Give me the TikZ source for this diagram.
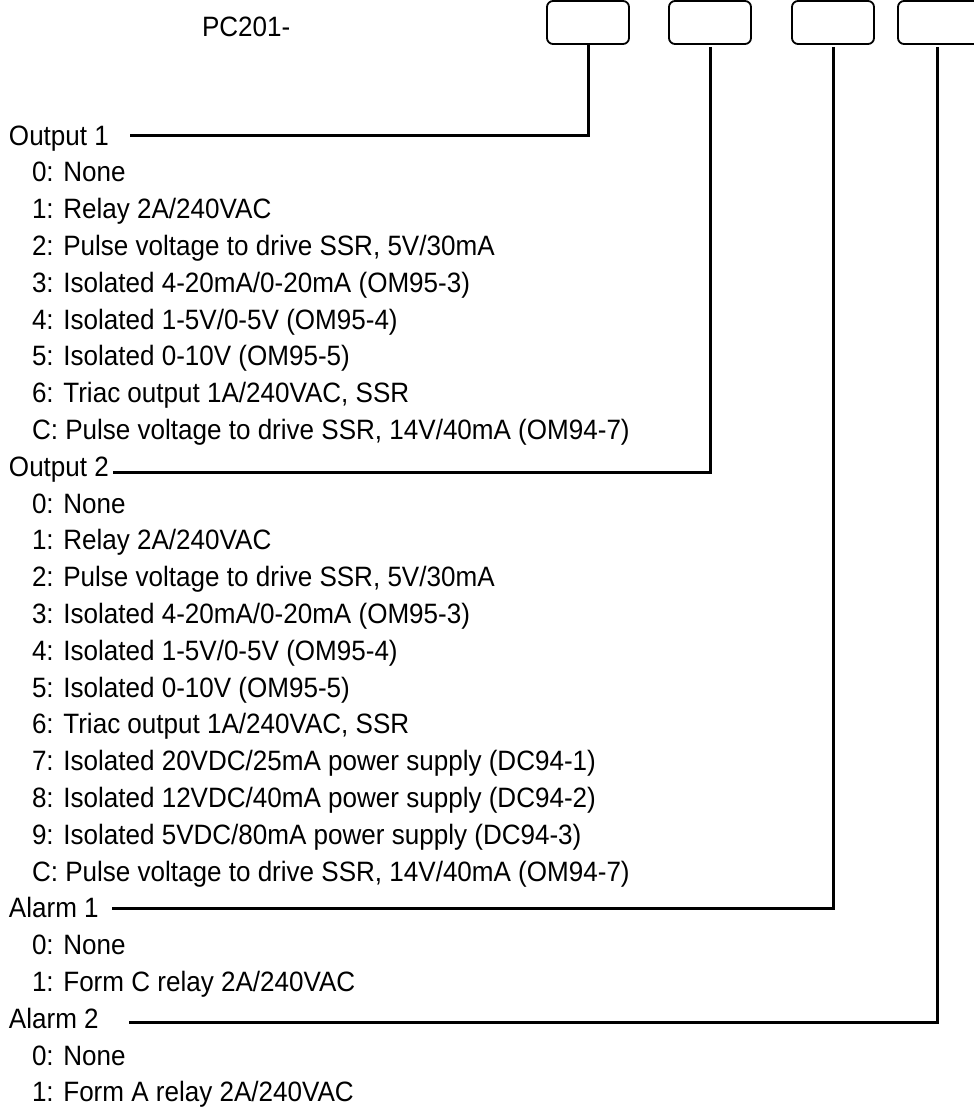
\documentclass[tikz,border=0pt]{standalone}
\usepackage{fontspec}
\setmainfont{Liberation Sans}[FakeStretch=0.93]
\begin{document}
\begin{tikzpicture}[x=1pt,y=-1pt,
  every node/.style={inner sep=0pt,outer sep=0pt,font=\fontsize{28}{34}\selectfont},
  lbl/.style={anchor=base west},
  codebox/.style={draw,line width=1.8pt,rounded corners=6pt,minimum width=82pt,minimum height=43pt,anchor=north west},
  conn/.style={line width=3pt,line join=miter}]
\useasboundingbox (0,0) rectangle (974,1108);
\node[lbl] (pc) at (202,37) {PC201-};
\node[codebox] (b1) at (547,1) {};
\node[codebox] (b2) at (669,1) {};
\node[codebox] (b3) at (792,1) {};
\node[codebox] (b4) at (898,1) {};
\def\pitch{36.8}
% Output 1
\node[lbl] (o1) at (9,145) {Output 1};
\foreach \t [count=\i] in {0: None,1: Relay 2A/240VAC,{2: Pulse voltage to drive SSR, 5V/30mA},3: Isolated 4-20mA/0-20mA (OM95-3),4: Isolated 1-5V/0-5V (OM95-4),5: Isolated 0-10V (OM95-5),{6: Triac output 1A/240VAC, SSR},{C: Pulse voltage to drive SSR, 14V/40mA (OM94-7)}}
  \node[lbl] (o1i\i) at (32,145+\i*\pitch) {\t};
% Output 2
\node[lbl] (o2) at (9,145+9*\pitch) {Output 2};
\foreach \t [count=\i] in {0: None,1: Relay 2A/240VAC,{2: Pulse voltage to drive SSR, 5V/30mA},3: Isolated 4-20mA/0-20mA (OM95-3),4: Isolated 1-5V/0-5V (OM95-4),5: Isolated 0-10V (OM95-5),{6: Triac output 1A/240VAC, SSR},7: Isolated 20VDC/25mA power supply (DC94-1),8: Isolated 12VDC/40mA power supply (DC94-2),9: Isolated 5VDC/80mA power supply (DC94-3),{C: Pulse voltage to drive SSR, 14V/40mA (OM94-7)}}
  \node[lbl] (o2i\i) at (32,145+9*\pitch+\i*\pitch) {\t};
% Alarm 1
\node[lbl] (a1) at (9,145+21*\pitch) {Alarm 1};
\node[lbl] (a1i1) at (32,145+22*\pitch) {0: None};
\node[lbl] (a1i2) at (32,145+23*\pitch) {1: Form C relay 2A/240VAC};
% Alarm 2
\node[lbl] (a2) at (9,145+24*\pitch) {Alarm 2};
\node[lbl] (a2i1) at (32,145+25*\pitch) {0: None};
\node[lbl] (a2i2) at (32,145+26*\pitch) {1: Form A relay 2A/240VAC};
% connector start points
\coordinate (c1) at (130,135);
\coordinate (c2) at (113,472);
\coordinate (c3) at (112,908);
\coordinate (c4) at (129,1022);
\draw[conn] (b1.south) |- (c1);
\draw[conn] ([yshift=-3pt]b2.south) |- (c2);
\draw[conn] ([yshift=-3pt]b3.south) |- (c3);
\draw[conn] ([yshift=-3pt]b4.south -| 937,0) |- (c4);
\end{tikzpicture}
\end{document}
